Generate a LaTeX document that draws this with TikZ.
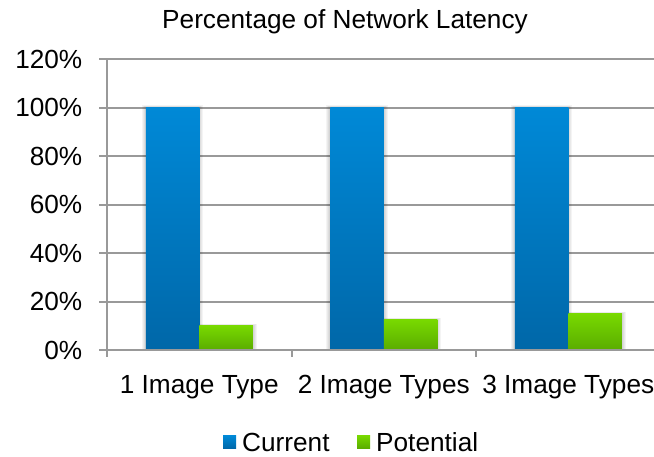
\documentclass[tikz,border=0pt]{standalone}
\usepackage{fontspec}
\setmainfont{Liberation Sans}
\definecolor{gridgray}{HTML}{999999}
\definecolor{curtop}{HTML}{0089D7}
\definecolor{curbot}{HTML}{0067A8}
\definecolor{pottop}{HTML}{78D900}
\definecolor{potbot}{HTML}{5AAC00}
\tikzset{
  chartfont/.style={font=\fontsize{26.2}{30}\selectfont, inner sep=0pt, text=black},
  gridline/.style={draw=gridgray, line width=2pt},
  axisline/.style={draw=gridgray, line width=2pt},
  curbar/.style={top color=curtop, bottom color=curbot, draw=none},
  potbar/.style={top color=pottop, bottom color=potbot, draw=none},
}
% soft gray halo behind a bar: #1,#2 = lower-left corner, #3,#4 = upper-right corner
\newcommand{\barhalo}[4]{%
  \foreach \r in {1,2,3,4} {
    \fill[black, opacity=0.045] (#1-\r,#2+0) rectangle (#3+\r,#4-\r*0.5);
  }%
}
\begin{document}
\begin{tikzpicture}[x=1pt, y=-1pt]
  \useasboundingbox[fill=white] (0,0) rectangle (654,456);

  % title
  \node[chartfont, anchor=base] (title) at (345,28) {Percentage of Network Latency};

  % horizontal grid lines and value labels (20% = 48.5 units)
  \foreach \v in {20,40,...,120} {
    \pgfmathsetmacro{\yy}{350-\v*2.425}
    \draw[gridline] (99,\yy) -- (654,\yy);
  }
  \foreach \v in {0,20,...,120} {
    \pgfmathsetmacro{\yy}{350-\v*2.425+9}
    \node[chartfont, anchor=base east] (lab\v) at (82.5,\yy) {\v\%};
  }

  % bars: current at 100%, potential below
  \foreach \i/\p in {1/10, 2/12.5, 3/15} {
    \pgfmathsetmacro{\cx}{107+184.5*(\i-0.5)}
    \pgfmathsetmacro{\py}{350-\p*2.425}
    \barhalo{\cx-53.5}{350}{\cx}{107}
    \barhalo{\cx}{350}{\cx+53.5}{\py}
    \path[curbar] (\cx-53.5,107) rectangle (\cx,350);
    \path[potbar] (\cx,\py) rectangle (\cx+53.5,350);
  }

  % baseline, value axis and ticks
  \draw[axisline] (99,350) -- (654,350);
  \draw[axisline] (107,59) -- (107,357);
  \draw[axisline] (291.5,350) -- (291.5,357);
  \draw[axisline] (476,350) -- (476,357);

  % category labels
  \node[chartfont, anchor=base] (cat1) at (199.25,393) {1 Image Type};
  \node[chartfont, anchor=base] (cat2) at (383.75,393) {2 Image Types};
  \node[chartfont, anchor=base] (cat3) at (568.25,393) {3 Image Types};

  % legend
  \path[curbar] (223,435.5) rectangle (236,448.5);
  \node[chartfont, anchor=base west] (legcur) at (242,451) {Current};
  \path[potbar] (357,435.5) rectangle (370,448.5);
  \node[chartfont, anchor=base west] (legpot) at (376,451) {Potential};
\end{tikzpicture}
\end{document}
